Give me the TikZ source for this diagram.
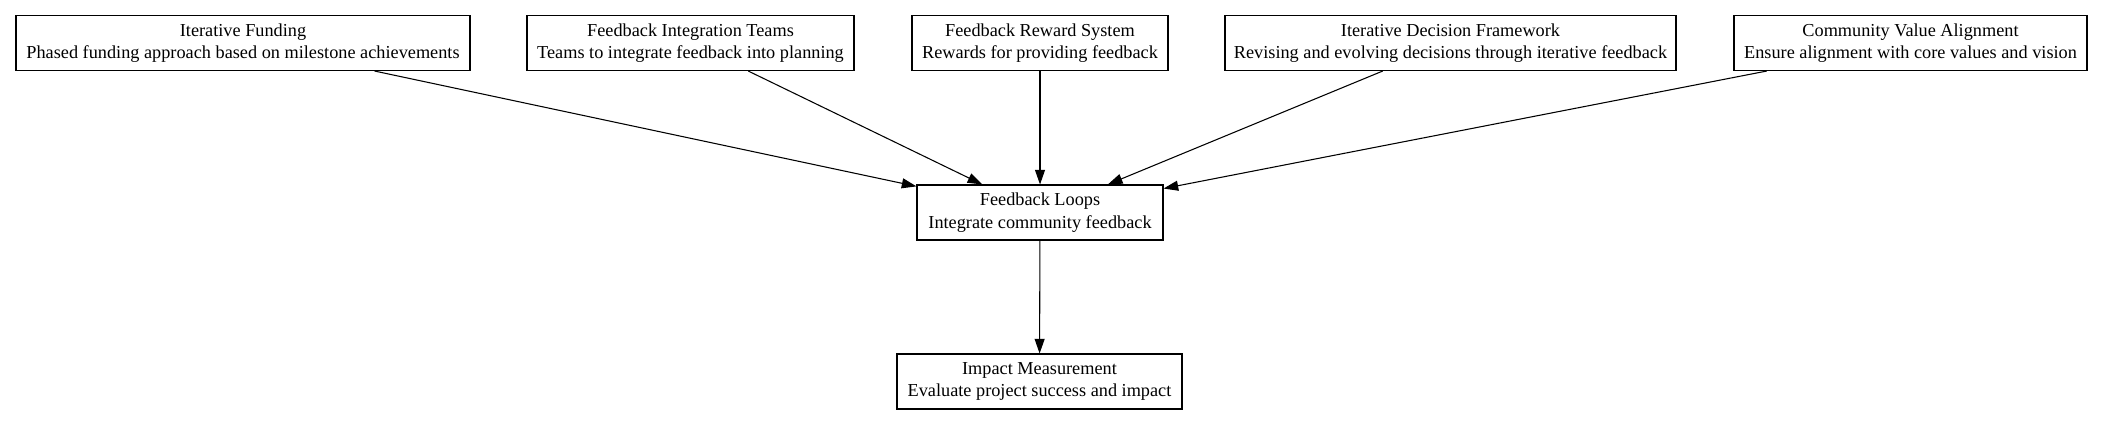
\documentclass[tikz,border=0pt]{standalone}
\usepackage{fontspec}
\setmainfont{Liberation Serif}
\usetikzlibrary{arrows.meta}

\begin{document}
\begin{tikzpicture}[x=0.75pt, y=-0.75pt,
  box/.style={draw, line width=0.8pt, align=center, inner sep=0pt, minimum height=41.25pt,
    font=\fontsize{13.7}{16.8}\selectfont},
  link/.style={line width=0.8pt, -{Triangle[length=11pt,width=7.5pt]}}]

\useasboundingbox (0,0) rectangle (2104,425);

\node[box, minimum width=340.5pt] (funding) at (243,43) {Iterative Funding\\Phased funding approach based on milestone achievements};
\node[box, minimum width=245.25pt] (teams) at (690.5,43) {Feedback Integration Teams\\Teams to integrate feedback into planning};
\node[box, minimum width=192pt] (reward) at (1040,43) {Feedback Reward System\\Rewards for providing feedback};
\node[box, minimum width=338.25pt] (decision) at (1450.5,43) {Iterative Decision Framework\\Revising and evolving decisions through iterative feedback};
\node[box, minimum width=264.75pt] (values) at (1910.5,43) {Community Value Alignment\\Ensure alignment with core values and vision};

\node[box, minimum width=184.5pt] (loops) at (1040,212.5) {Feedback Loops\\Integrate community feedback};
\node[box, minimum width=213.75pt] (impact) at (1039.5,381.5) {Impact Measurement\\Evaluate project success and impact};

\draw[link] (funding) -- (loops);
\draw[link] (teams) -- (loops);
\draw[link] (reward) -- (loops);
\draw[link] (decision) -- (loops);
\draw[link] (values) -- (loops);

\draw[link] (loops) -- (impact);

\end{tikzpicture}
\end{document}
